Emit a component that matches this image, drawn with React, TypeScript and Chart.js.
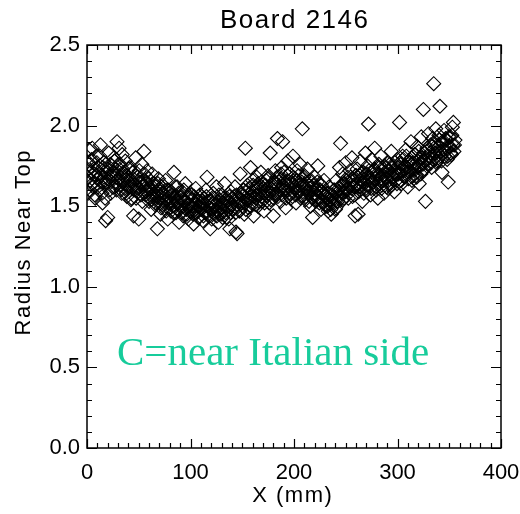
import React, { useEffect, useRef } from "react";
import { Chart, registerables } from "chart.js";

Chart.register(...registerables);

const titleText = "Board 2146";
const xAxisTitle = "X (mm)";
const yAxisTitle = "Radius Near Top";
const noteText = "C=near Italian side";
const noteColor = "#17cc9b";

const xMin = 0;
const xMax = 400;
const xStep = 100;
const yMin = 0;
const yMax = 2.5;
const yStep = 0.5;

// first pass: positions along the board (mm)
const xPositionsA = [
  0, 1, 2, 3, 4, 5, 6, 7, 8, 9, 10, 11, 12, 13, 14, 15, 16, 17, 18, 19,
  20, 21, 22, 23, 24, 25, 26, 27, 28, 29, 30, 31, 32, 33, 34, 35,
  36, 37, 38, 39, 40, 41, 42, 43, 44, 45, 46, 47, 48, 49, 50, 51, 52, 53, 54, 55,
  56, 57, 58, 59, 60,
  61, 62, 63, 64, 65, 66, 67, 68, 69, 70, 71, 72, 73, 74, 75, 76, 77, 78, 79, 80,
  81, 82, 83, 84, 85, 86, 87, 88, 89, 90, 91, 92, 93, 94, 95, 96, 97, 98, 99, 100,
  101, 102, 103, 104, 105, 106, 107, 108, 109, 110, 111, 112, 113, 114, 115, 116, 117, 118, 119, 120,
  121, 122, 123, 124, 125, 126, 127, 128, 129, 130, 131, 132, 133, 134, 135, 136, 137, 138, 139, 140,
  141, 142, 143, 144, 145, 146, 147, 148, 149, 150, 151, 152, 153, 154, 155, 156, 157, 158, 159, 160,
  161, 162, 163, 164, 165, 166, 167, 168, 169, 170, 171, 172, 173, 174, 175, 176, 177, 178, 179, 180,
  181, 182, 183, 184, 185, 186, 187, 188, 189, 190, 191, 192, 193, 194, 195, 196, 197, 198, 199, 200,
  201, 202, 203, 204, 205, 206, 207, 208, 209, 210, 211, 212, 213, 214, 215, 216, 217, 218, 219, 220,
  221, 222, 223, 224, 225, 226, 227, 228, 229, 230,
  231, 232, 233, 234, 235, 236, 237, 238, 239, 240, 241, 242, 243, 244, 245, 246, 247, 248, 249, 250,
  251, 252, 253, 254, 255, 256, 257, 258, 259, 260,
  261, 262, 263, 264, 265, 266, 267, 268, 269, 270, 271, 272, 273, 274, 275, 276, 277, 278, 279, 280,
  281, 282, 283, 284, 285, 286, 287, 288, 289, 290, 291, 292, 293, 294, 295, 296, 297, 298, 299, 300,
  301, 302, 303, 304, 305, 306, 307, 308, 309, 310, 311, 312, 313, 314, 315, 316, 317, 318, 319, 320,
  321, 322, 323, 324, 325, 326, 327, 328, 329, 330,
  331, 332, 333, 334, 335, 336, 337, 338, 339, 340, 341, 342, 343, 344, 345, 346, 347, 348, 349, 350,
  351, 352, 353, 354, 355,
];

// first pass: radius near top
const radiusNearTopA = [
  1.72, 1.58, 1.85, 1.66, 1.78, 1.86, 1.62, 1.70, 1.55, 1.81, 1.67, 1.74, 1.60, 1.88, 1.69, 1.52, 1.77, 1.64, 1.41, 1.71,
  1.43, 1.83, 1.66, 1.58, 1.75, 1.69, 1.80, 1.62, 1.73, 1.90, 1.67, 1.86, 1.76, 1.60, 1.82, 1.71,
  1.64, 1.78, 1.58, 1.69, 1.62, 1.74, 1.66, 1.55, 1.71, 1.44, 1.63, 1.80, 1.60, 1.68, 1.42, 1.65, 1.57, 1.76, 1.62, 1.84,
  1.66, 1.59, 1.72, 1.63, 1.53,
  1.61, 1.48, 1.70, 1.56, 1.64, 1.52, 1.59, 1.36, 1.67, 1.55, 1.45, 1.62, 1.51, 1.58, 1.49, 1.66, 1.54, 1.42, 1.60, 1.53,
  1.47, 1.57, 1.50, 1.71, 1.55, 1.46, 1.62, 1.52, 1.40, 1.56, 1.49, 1.59, 1.44, 1.53, 1.64, 1.48, 1.55, 1.42, 1.51, 1.58,
  1.46, 1.54, 1.39, 1.50, 1.61, 1.47, 1.53, 1.43, 1.57, 1.49, 1.52, 1.41, 1.55, 1.46, 1.60, 1.68, 1.50, 1.44, 1.36, 1.53,
  1.48, 1.58, 1.45, 1.51, 1.62, 1.47, 1.40, 1.54, 1.49, 1.57, 1.43, 1.52, 1.64, 1.46, 1.55, 1.50, 1.42, 1.36, 1.59, 1.51,
  1.48, 1.56, 1.62, 1.34, 1.33, 1.53, 1.47, 1.70, 1.57, 1.50, 1.60, 1.45, 1.86, 1.54, 1.63, 1.49, 1.58, 1.74, 1.52, 1.66,
  1.44, 1.59, 1.55, 1.68, 1.50, 1.62, 1.57, 1.71, 1.53, 1.64, 1.47, 1.60, 1.66, 1.56, 1.69, 1.52, 1.83, 1.61, 1.58, 1.44,
  1.65, 1.72, 1.57, 1.92, 1.62, 1.68, 1.53, 1.74, 1.90, 1.60, 1.66, 1.49, 1.63, 1.78, 1.58, 1.70, 1.55, 1.64, 1.81, 1.61,
  1.67, 1.52, 1.72, 1.59, 1.65, 1.76, 1.56, 1.98, 1.63, 1.69, 1.54, 1.61, 1.73, 1.58, 1.66, 1.50, 1.62, 1.43, 1.57, 1.68,
  1.53, 1.60, 1.75, 1.55, 1.64, 1.48, 1.59, 1.52, 1.66, 1.56,
  1.50, 1.58, 1.47, 1.62, 1.54, 1.45, 1.57, 1.51, 1.60, 1.48, 1.66, 1.53, 1.56, 1.74, 1.89, 1.59, 1.70, 1.55, 1.64, 1.77,
  1.61, 1.68, 1.58, 1.72, 1.63, 1.80, 1.66, 1.57, 1.44, 1.69,
  1.73, 1.45, 1.62, 1.78, 1.67, 1.53, 1.71, 1.64, 1.83, 1.60, 1.75, 2.01, 1.68, 1.57, 1.79, 1.65, 1.72, 1.86, 1.62, 1.70,
  1.55, 1.76, 1.66, 1.81, 1.63, 1.69, 1.58, 1.74, 1.67, 1.77, 1.61, 1.72, 1.64, 1.84, 1.68, 1.75, 1.59, 1.71, 1.66, 1.79,
  1.70, 2.02, 1.76, 1.64, 1.81, 1.72, 1.68, 1.85, 1.74, 1.62, 1.78, 1.71, 1.90, 1.66, 1.77, 1.73, 1.82, 1.69, 1.87, 1.75,
  1.64, 1.80, 1.93, 1.72, 2.10, 1.78, 1.53, 1.84, 1.76, 1.95,
  1.80, 1.88, 1.74, 1.92, 2.26, 1.83, 1.98, 1.78, 1.86, 1.94, 2.12, 1.81, 1.71, 1.89, 1.97, 1.84, 1.91, 1.79, 1.65, 1.87,
  1.93, 1.82, 1.99, 2.02, 1.88,
];

// second pass: positions along the board (mm)
const xPositionsB = [
  0.5, 1.5, 2.5, 3.5, 4.5, 5.5, 6.5, 7.5, 8.5, 9.5, 10.5, 11.5, 12.5, 13.5, 14.5, 15.5, 16.5, 17.5, 18.5, 19.5,
  20.5, 21.5, 22.5, 23.5, 24.5, 25.5, 26.5, 27.5, 28.5, 29.5, 30.5, 31.5, 32.5, 33.5, 34.5, 35.5,
  36.5, 37.5, 38.5, 39.5, 40.5, 41.5, 42.5, 43.5, 44.5, 45.5, 46.5, 47.5, 48.5, 49.5, 50.5, 51.5, 52.5, 53.5, 54.5, 55.5,
  56.5, 57.5, 58.5, 59.5, 60.5,
  61.5, 62.5, 63.5, 64.5, 65.5, 66.5, 67.5, 68.5, 69.5, 70.5, 71.5, 72.5, 73.5, 74.5, 75.5, 76.5, 77.5, 78.5, 79.5, 80.5,
  81.5, 82.5, 83.5, 84.5, 85.5, 86.5, 87.5, 88.5, 89.5, 90.5, 91.5, 92.5, 93.5, 94.5, 95.5, 96.5, 97.5, 98.5, 99.5, 100.5,
  101.5, 102.5, 103.5, 104.5, 105.5, 106.5, 107.5, 108.5, 109.5, 110.5, 111.5, 112.5, 113.5, 114.5, 115.5, 116.5, 117.5, 118.5, 119.5, 120.5,
  121.5, 122.5, 123.5, 124.5, 125.5, 126.5, 127.5, 128.5, 129.5, 130.5, 131.5, 132.5, 133.5, 134.5, 135.5, 136.5, 137.5, 138.5, 139.5, 140.5,
  141.5, 142.5, 143.5, 144.5, 145.5, 146.5, 147.5, 148.5, 149.5, 150.5, 151.5, 152.5, 153.5, 154.5, 155.5, 156.5, 157.5, 158.5, 159.5, 160.5,
  161.5, 162.5, 163.5, 164.5, 165.5, 166.5, 167.5, 168.5, 169.5, 170.5, 171.5, 172.5, 173.5, 174.5, 175.5, 176.5, 177.5, 178.5, 179.5, 180.5,
  181.5, 182.5, 183.5, 184.5, 185.5, 186.5, 187.5, 188.5, 189.5, 190.5, 191.5, 192.5, 193.5, 194.5, 195.5, 196.5, 197.5, 198.5, 199.5, 200.5,
  201.5, 202.5, 203.5, 204.5, 205.5, 206.5, 207.5, 208.5, 209.5, 210.5, 211.5, 212.5, 213.5, 214.5, 215.5, 216.5, 217.5, 218.5, 219.5, 220.5,
  221.5, 222.5, 223.5, 224.5, 225.5, 226.5, 227.5, 228.5, 229.5, 230.5,
  231.5, 232.5, 233.5, 234.5, 235.5, 236.5, 237.5, 238.5, 239.5, 240.5, 241.5, 242.5, 243.5, 244.5, 245.5, 246.5, 247.5, 248.5, 249.5, 250.5,
  251.5, 252.5, 253.5, 254.5, 255.5, 256.5, 257.5, 258.5, 259.5, 260.5,
  261.5, 262.5, 263.5, 264.5, 265.5, 266.5, 267.5, 268.5, 269.5, 270.5, 271.5, 272.5, 273.5, 274.5, 275.5, 276.5, 277.5, 278.5, 279.5, 280.5,
  281.5, 282.5, 283.5, 284.5, 285.5, 286.5, 287.5, 288.5, 289.5, 290.5, 291.5, 292.5, 293.5, 294.5, 295.5, 296.5, 297.5, 298.5, 299.5, 300.5,
  301.5, 302.5, 303.5, 304.5, 305.5, 306.5, 307.5, 308.5, 309.5, 310.5, 311.5, 312.5, 313.5, 314.5, 315.5, 316.5, 317.5, 318.5, 319.5, 320.5,
  321.5, 322.5, 323.5, 324.5, 325.5, 326.5, 327.5, 328.5, 329.5, 330.5,
  331.5, 332.5, 333.5, 334.5, 335.5, 336.5, 337.5, 338.5, 339.5, 340.5, 341.5, 342.5, 343.5, 344.5, 345.5, 346.5, 347.5, 348.5, 349.5, 350.5,
  351.5, 352.5, 353.5, 354.5, 355.5,
];

const radiusNearTopB = [
  1.68, 1.76, 1.60, 1.71, 1.79, 1.64, 1.73, 1.57, 1.69, 1.77, 1.62, 1.70, 1.81, 1.65, 1.58, 1.74, 1.68, 1.55, 1.65, 1.73,
  1.67, 1.60, 1.76, 1.69, 1.62, 1.71, 1.78, 1.65, 1.60, 1.70, 1.76, 1.63, 1.68, 1.58, 1.73, 1.66,
  1.61, 1.69, 1.56, 1.66, 1.73, 1.62, 1.54, 1.65, 1.71, 1.60, 1.64, 1.55, 1.68, 1.61, 1.72, 1.58, 1.65, 1.53, 1.63, 1.70,
  1.57, 1.64, 1.60, 1.67, 1.55,
  1.60, 1.54, 1.64, 1.57, 1.51, 1.62, 1.56, 1.64, 1.53, 1.59, 1.49, 1.58, 1.63, 1.53, 1.57, 1.47, 1.60, 1.52, 1.56, 1.49,
  1.59, 1.52, 1.46, 1.56, 1.62, 1.53, 1.48, 1.58, 1.51, 1.55, 1.46, 1.54, 1.60, 1.49, 1.53, 1.45, 1.56, 1.51, 1.48, 1.57,
  1.50, 1.45, 1.56, 1.51, 1.46, 1.54, 1.43, 1.50, 1.57, 1.48, 1.53, 1.44, 1.52, 1.47, 1.56, 1.50, 1.45, 1.53, 1.48, 1.42,
  1.52, 1.55, 1.47, 1.50, 1.44, 1.53, 1.57, 1.48, 1.45, 1.52, 1.47, 1.55, 1.50, 1.43, 1.53, 1.48, 1.56, 1.46, 1.51, 1.55,
  1.49, 1.54, 1.46, 1.57, 1.51, 1.55, 1.47, 1.58, 1.52, 1.56, 1.60, 1.52, 1.48, 1.59, 1.54, 1.61, 1.55, 1.50, 1.59, 1.63,
  1.56, 1.51, 1.62, 1.57, 1.64, 1.53, 1.59, 1.65, 1.56, 1.61, 1.52, 1.63, 1.57, 1.67, 1.58, 1.62, 1.54, 1.64, 1.60, 1.55,
  1.64, 1.58, 1.68, 1.56, 1.65, 1.60, 1.70, 1.57, 1.63, 1.71, 1.61, 1.55, 1.66, 1.60, 1.70, 1.58, 1.65, 1.56, 1.68, 1.62,
  1.57, 1.66, 1.60, 1.69, 1.63, 1.55, 1.65, 1.59, 1.68, 1.62, 1.56, 1.64, 1.59, 1.53, 1.61, 1.66, 1.55, 1.63, 1.58, 1.54,
  1.60, 1.65, 1.56, 1.52, 1.60, 1.63, 1.53, 1.58, 1.51, 1.57,
  1.55, 1.50, 1.58, 1.53, 1.48, 1.57, 1.52, 1.60, 1.55, 1.49, 1.58, 1.53, 1.61, 1.56, 1.63, 1.58, 1.54, 1.64, 1.59, 1.66,
  1.60, 1.55, 1.64, 1.68, 1.61, 1.56, 1.66, 1.62, 1.69, 1.63,
  1.64, 1.59, 1.69, 1.62, 1.71, 1.65, 1.58, 1.67, 1.61, 1.70, 1.63, 1.72, 1.66, 1.61, 1.71, 1.65, 1.73, 1.67, 1.60, 1.69,
  1.64, 1.74, 1.67, 1.61, 1.72, 1.66, 1.75, 1.68, 1.62, 1.72, 1.66, 1.76, 1.69, 1.63, 1.74, 1.68, 1.77, 1.70, 1.64, 1.74,
  1.71, 1.77, 1.66, 1.73, 1.79, 1.69, 1.75, 1.81, 1.71, 1.67, 1.77, 1.72, 1.80, 1.69, 1.75, 1.82, 1.73, 1.68, 1.78, 1.84,
  1.75, 1.70, 1.80, 1.76, 1.83, 1.73, 1.79, 1.86, 1.76, 1.81,
  1.83, 1.77, 1.87, 1.79, 1.89, 1.83, 1.77, 1.88, 1.80, 1.91, 1.84, 1.78, 1.90, 1.85, 1.81, 1.92, 1.86, 1.81, 1.93, 1.87,
  1.83, 1.94, 1.88, 1.84, 1.91,
];

const W = 520;
const H = 514;

const drawSpaced = (ctx: CanvasRenderingContext2D, text: string, x: number, y: number, spacing: number) => {
  (ctx as any).letterSpacing = `${spacing}px`;
  const w = ctx.measureText(text).width - spacing;
  ctx.textAlign = "left";
  ctx.fillText(text, x - w / 2, y);
  (ctx as any).letterSpacing = "0px";
};

const decorations = {
  id: "decorations",
  afterDraw(chart: any) {
    const { ctx, chartArea: a, scales } = chart;
    const xs = scales.x;
    const ys = scales.y;
    ctx.save();
    ctx.strokeStyle = "#000";
    ctx.lineWidth = 1.5;
    ctx.strokeRect(a.left, a.top, a.right - a.left, a.bottom - a.top);
    ctx.lineWidth = 1.2;
    ctx.beginPath();
    for (let v = xMin; v <= xMax + 1e-9; v += 10) {
      const px = Math.round(xs.getPixelForValue(v)) + 0.5;
      const len = Math.abs(v % xStep) < 1e-6 ? 9 : 5;
      ctx.moveTo(px, a.bottom);
      ctx.lineTo(px, a.bottom - len);
      ctx.moveTo(px, a.top);
      ctx.lineTo(px, a.top + len);
    }
    for (let i = 0; i <= 25; i++) {
      const v = i / 10;
      const py = Math.round(ys.getPixelForValue(v)) + 0.5;
      const len = i % 5 === 0 ? 10 : 5;
      ctx.moveTo(a.left, py);
      ctx.lineTo(a.left + len, py);
      ctx.moveTo(a.right, py);
      ctx.lineTo(a.right - len, py);
    }
    ctx.stroke();

    ctx.fillStyle = "#000";
    ctx.textBaseline = "middle";
    ctx.font = "26px 'Liberation Sans'";
    drawSpaced(ctx, titleText, (a.left + a.right) / 2, 21, 1.5);
    ctx.font = "22px 'Liberation Sans'";
    drawSpaced(ctx, xAxisTitle, (a.left + a.right) / 2 - 2, 496, 1.5);
    ctx.save();
    ctx.translate(24, 243);
    ctx.rotate(-Math.PI / 2);
    drawSpaced(ctx, yAxisTitle, 0, 0, 1.5);
    ctx.restore();

    ctx.fillStyle = noteColor;
    ctx.font = "41px 'Liberation Serif'";
    ctx.textAlign = "left";
    ctx.textBaseline = "alphabetic";
    ctx.fillText(noteText, 117, 365);
    ctx.restore();
  },
};

const diamondStyle = {
  pointStyle: "rectRot" as const,
  pointRadius: 7,
  pointHoverRadius: 7,
  borderColor: "#000",
  backgroundColor: "rgba(0,0,0,0)",
  borderWidth: 1.1,
};

export default function App() {
  const ref = useRef<HTMLCanvasElement | null>(null);
  useEffect(() => {
    if (!ref.current) return;
    const pointsA = xPositionsA.map((x, i) => ({ x, y: radiusNearTopA[i] }));
    const pointsB = xPositionsB.map((x, i) => ({ x, y: radiusNearTopB[i] }));
    const chart = new Chart(ref.current, {
      type: "scatter",
      data: {
        datasets: [
          { data: pointsA, ...diamondStyle },
          { data: pointsB, ...diamondStyle },
        ],
      },
      options: {
        animation: false,
        responsive: false,
        maintainAspectRatio: false,
        events: [],
        layout: { padding: { left: 0, right: 19, top: 45, bottom: 0 } },
        plugins: { legend: { display: false }, tooltip: { enabled: false }, title: { display: false } },
        scales: {
          x: {
            type: "linear",
            min: xMin,
            max: xMax,
            grid: { display: false, drawTicks: false },
            border: { display: false },
            ticks: {
              stepSize: xStep,
              autoSkip: false,
              maxRotation: 0,
              padding: 12,
              color: "#000",
              font: { family: "'Liberation Sans'", size: 22 },
            },
            afterFit: (s: any) => {
              s.height = 66;
              s.paddingLeft = 0;
              s.paddingRight = 0;
            },
          },
          y: {
            type: "linear",
            min: yMin,
            max: yMax,
            grid: { display: false, drawTicks: false },
            border: { display: false },
            ticks: {
              stepSize: yStep,
              autoSkip: false,
              padding: 7,
              color: "#000",
              font: { family: "'Liberation Sans'", size: 22 },
              callback: (v: any) => Number(v).toFixed(1),
            },
            afterFit: (s: any) => {
              s.width = 87;
              s.paddingTop = 0;
              s.paddingBottom = 0;
            },
          },
        },
      },
      plugins: [decorations],
    });
    return () => chart.destroy();
  }, []);
  return (
    <div style={{ position: "fixed", left: 0, top: 0, width: W, height: H, background: "#fff" }}>
      <canvas ref={ref} width={W} height={H} style={{ width: W, height: H, display: "block" }} />
    </div>
  );
}
